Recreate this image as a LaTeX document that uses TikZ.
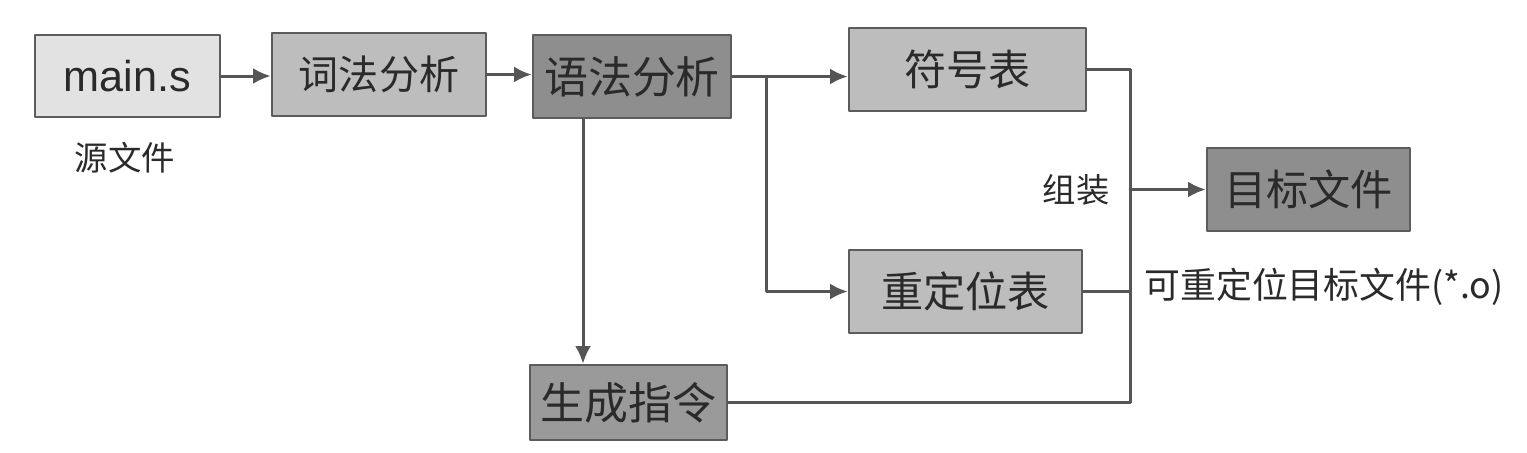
\documentclass[tikz,border=0pt]{standalone}
\usepackage{fontspec}
\setmainfont{Liberation Sans}
\newfontfamily\cjk{Noto Sans CJK SC}
\usetikzlibrary{arrows.meta}
\usetikzlibrary{calc}

\definecolor{boxline}{HTML}{5C5C5C}
\definecolor{linegray}{HTML}{555555}
\definecolor{textgray}{HTML}{2A2A2A}
\definecolor{fillLight}{HTML}{E2E2E2}
\definecolor{fillMid}{HTML}{BDBDBD}
\definecolor{fillDark}{HTML}{8E8E8E}
\definecolor{fillGen}{HTML}{9A9A9A}

\begin{document}
\begin{tikzpicture}[line cap=round, line join=round, >={Latex[length=5pt,width=4.5pt]},
  box/.style={draw=boxline, line width=0.7pt, inner sep=0pt, text=textgray,
    font=\cjk\fontsize{12}{12}\selectfont},
  flow/.style={draw=linegray, line width=0.85pt},
  note/.style={text=textgray, font=\cjk\fontsize{9.5}{9.5}\selectfont}]

  % ===== Frame (1 unit = 100 px of the page) =====
  \useasboundingbox (0,0) rectangle (15.27,4.52);

  % ===== Boxes =====
  \node[box, fill=fillLight, minimum width=1.85cm, minimum height=0.82cm,
        font=\fontsize{12.3}{12}\selectfont] (src) at (1.275,3.76) {main.s};
  \node[box, fill=fillMid, minimum width=2.14cm, minimum height=0.83cm,
        font=\cjk\fontsize{11.4}{12}\selectfont] (lex) at (3.79,3.775) {词法分析};
  \node[box, fill=fillDark, minimum width=1.98cm, minimum height=0.83cm,
        font=\cjk\fontsize{12.5}{12}\selectfont] (parse) at (6.32,3.755) {语法分析};
  \node[box, fill=fillMid, minimum width=2.37cm, minimum height=0.83cm] (sym) at (9.675,3.825) {符号表};
  \node[box, fill=fillMid, minimum width=2.33cm, minimum height=0.83cm] (reloc) at (9.655,1.605) {重定位表};
  \node[box, fill=fillGen, minimum width=1.97cm, minimum height=0.75cm,
        font=\cjk\fontsize{12.5}{12}\selectfont] (gen) at (6.285,0.495) {生成指令};
  \node[box, fill=fillDark, minimum width=2.03cm, minimum height=0.83cm] (obj) at (13.085,2.625) {目标文件};

  % ===== Labels =====
  \node[note] (srcname) at (1.25,2.94) {源文件};
  \node[note, font=\cjk\fontsize{10.2}{10}\selectfont] (objname) at (13.24,1.65) {可重定位目标文件(*.o)};

  % ===== Front end =====
  \draw[flow, ->] (src.east) -- (src.east -| lex.west);
  \draw[flow, ->] (lex.east) -- (lex.east -| parse.west);

  % split point right of the parser
  \coordinate (split) at ($(parse.east)+(0.34,0)$);
  \draw[flow, ->] (parse.east) -- (parse.east -| sym.west);
  \draw[flow, ->] (split) |- (reloc.west);
  \draw[flow, ->] ([xshift=-4.9mm]parse.south) -- ([xshift=-4.9mm]parse.south |- gen.north);

  % ===== Assembly bus =====
  \coordinate (bus) at (11.3,2.625);
  \draw[flow] (sym.east) -| (gen.east -| bus) -- (gen.east);
  \draw[flow] (reloc.east) -- (reloc.east -| bus);
  \draw[flow, ->] (bus) -- (obj.west);
  \node[note, anchor=east] (asm) at ($(bus)+(-0.08,0)$) {组装};

\end{tikzpicture}
\end{document}
